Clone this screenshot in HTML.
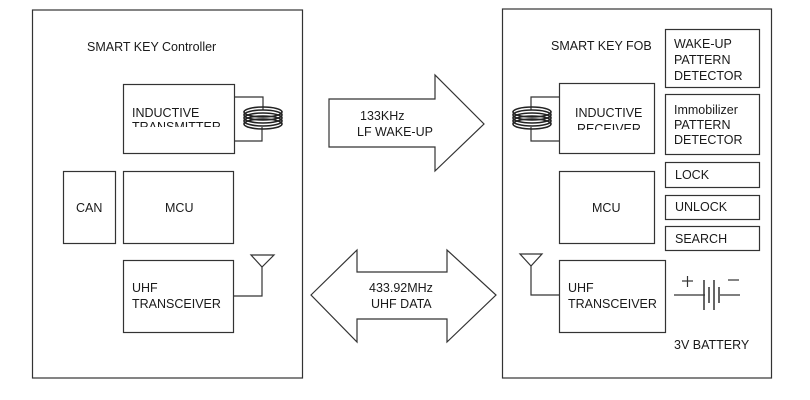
<!DOCTYPE html>
<html><head><meta charset="utf-8"><style>
html,body{margin:0;padding:0;background:#fff;}
svg{display:block;}
text{font-family:"Liberation Sans","DejaVu Sans",sans-serif;font-size:12.5px;fill:#1a1a1a;}
</style></head><body>
<svg width="810" height="400" viewBox="0 0 810 400" xmlns="http://www.w3.org/2000/svg">
<defs>
<clipPath id="c1"><rect x="124" y="85" width="110" height="42"/></clipPath>
<clipPath id="c2"><rect x="560" y="84" width="94" height="46"/></clipPath>
</defs>
<g fill="none" stroke="#333" stroke-width="1.2">
<rect x="32.5" y="10" width="270" height="368"/>
<rect x="123.5" y="84.5" width="111" height="69"/>
<rect x="63.5" y="171.5" width="52" height="72"/>
<rect x="123.5" y="171.5" width="110" height="72"/>
<rect x="123.5" y="260.5" width="110" height="72"/>
<polyline points="234,97 263,97 263,110"/>
<polyline points="234,141 262,141 262,127"/>
<polygon points="251,255 274,255 262,267"/>
<polyline points="262,267 262,296 234,296"/>
<rect x="502.5" y="9" width="269" height="369"/>
<rect x="665.5" y="29.5" width="94" height="58"/>
<rect x="665.5" y="94.5" width="94" height="60"/>
<rect x="665.5" y="162.5" width="94" height="25"/>
<rect x="665.5" y="195.5" width="94" height="24"/>
<rect x="665.5" y="226.5" width="94" height="24"/>
<rect x="559.5" y="83.5" width="95" height="70"/>
<rect x="559.5" y="171.5" width="95" height="72"/>
<rect x="559.5" y="260.5" width="106" height="72"/>
<polyline points="559,97 531,97 531,110"/>
<polyline points="559,141 531,141 531,127"/>
<polygon points="520,254 542,254 531,266"/>
<polyline points="531,266 531,295 559,295"/>
<polygon points="329,99 435,99 435,75 484,124 435,171 435,147 329,147"/>
<polygon points="311,295 357,250 357,272 447,272 447,250 496,295 447,342 447,319 357,319 357,342"/>
<line x1="674" y1="295" x2="705" y2="295"/>
<line x1="720" y1="295" x2="740" y2="295"/>
<line x1="682" y1="281" x2="693" y2="281"/>
<line x1="687.5" y1="276" x2="687.5" y2="287"/>
<line x1="728" y1="280" x2="739" y2="280"/>
</g>
<g stroke="#333" stroke-width="1.5">
<line x1="704" y1="280" x2="704" y2="310"/>
<line x1="709" y1="287" x2="709" y2="303"/>
<line x1="714" y1="280" x2="714" y2="310"/>
<line x1="719" y1="287" x2="719" y2="303"/>
</g>
<g fill="none" stroke="#222" stroke-width="1.6">
<ellipse cx="263" cy="112" rx="19" ry="5"/>
<ellipse cx="263" cy="115" rx="19" ry="5"/>
<ellipse cx="263" cy="118" rx="19" ry="5"/>
<ellipse cx="263" cy="121" rx="19" ry="5"/>
<ellipse cx="263" cy="124" rx="19" ry="5"/>
<ellipse cx="532" cy="112" rx="19" ry="5"/>
<ellipse cx="532" cy="115" rx="19" ry="5"/>
<ellipse cx="532" cy="118" rx="19" ry="5"/>
<ellipse cx="532" cy="121" rx="19" ry="5"/>
<ellipse cx="532" cy="124" rx="19" ry="5"/>
</g>
<text x="87" y="51">SMART KEY Controller</text>
<g clip-path="url(#c1)"><text x="132" y="117">INDUCTIVE</text><text x="132" y="131">TRANSMITTER</text></g>
<text x="76" y="212">CAN</text>
<text x="165" y="212">MCU</text>
<text x="132" y="292">UHF</text>
<text x="132" y="308">TRANSCEIVER</text>
<text x="360" y="120">133KHz</text>
<text x="357" y="136">LF WAKE-UP</text>
<text x="369" y="292">433.92MHz</text>
<text x="371" y="308">UHF DATA</text>
<text x="551" y="50">SMART KEY FOB</text>
<text x="674" y="48">WAKE-UP</text>
<text x="674" y="64">PATTERN</text>
<text x="674" y="80">DETECTOR</text>
<text x="674" y="114">Immobilizer</text>
<text x="674" y="129">PATTERN</text>
<text x="674" y="144">DETECTOR</text>
<text x="675" y="179">LOCK</text>
<text x="675" y="211">UNLOCK</text>
<text x="675" y="243">SEARCH</text>
<g clip-path="url(#c2)"><text x="575" y="117">INDUCTIVE</text><text x="577" y="133">RECEIVER</text></g>
<text x="592" y="212">MCU</text>
<text x="568" y="292">UHF</text>
<text x="568" y="308">TRANSCEIVER</text>
<text x="674" y="349">3V BATTERY</text>
</svg>
</body></html>
